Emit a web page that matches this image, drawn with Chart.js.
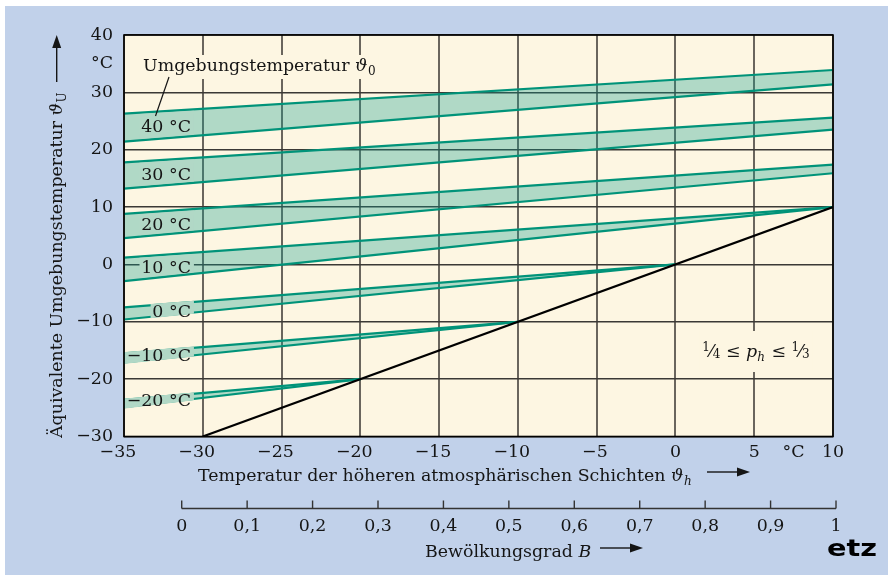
<!DOCTYPE html>
<html>
<head>
<meta charset="utf-8">
<script src="https://cdn.jsdelivr.net/npm/chart.js@4/dist/chart.umd.min.js"></script>
<style>
  html, body { margin: 0; padding: 0; background: #fff; }
  #wrap { width: 888px; height: 575px; position: relative; }
</style>
</head>
<body>
<div id="wrap"><canvas id="c" width="888" height="575"></canvas></div>
<script>
// Temperature of the upper atmospheric layers θh (°C), x axis
const xTicks = [-35, -30, -25, -20, -15, -10, -5, 0, 5, 7.5, 10];
const xTickLabels = ['−35\u2002\u2009', '−30\u2002\u2009', '−25\u2002\u2009', '−20\u2002\u2009', '−15\u2002\u2009',
                     '−10\u2002\u2009', '−5\u2009', '0', '5', '°C', '10'];
// Equivalent ambient temperature θU (°C), y axis
const yTicks = [-30, -20, -10, 0, 10, 20, 30, 35, 40];
const yTickLabels = ['−30', '−20', '−10', '0', '10', '20', '30', '°C', '40'];
// Cloud cover B, secondary scale
const cloudTicks = [0, 0.1, 0.2, 0.3, 0.4, 0.5, 0.6, 0.7, 0.8, 0.9, 1];
const cloudTickLabels = ['0', '0,1', '0,2', '0,3', '0,4', '0,5', '0,6', '0,7', '0,8', '0,9', '1'];

// Ambient temperature θ0 bands: upper edge (p = 1/4) and lower edge (p = 1/3)
const ambientLabels = ['40 °C', '30 °C', '20 °C', '10 °C', '0 °C', '−10 °C', '−20 °C'];
const bandStartX = [-35, -35, -35, -35, -35, -35, -35];
const bandEndX   = [10, 10, 10, 10, 0, -10, -20];
const upperStart = [26.3, 17.8, 8.8, 1.2, -7.5, -15.5, -23.6];
const lowerStart = [21.4, 13.2, 4.6, -2.9, -9.6, -17.1, -24.9];
const upperEnd   = [33.9, 25.6, 17.4, 10, 0, -10, -20];
const lowerEnd   = [31.4, 23.5, 15.9, 10, 0, -10, -20];
// θU = θh reference line
const neutralX = [-30, 10];
const neutralY = [-30, 10];

const SERIF = "'DejaVu Serif', serif";
const FS = 17.4;
const TEAL = '#009379';
const BAND_RGBA = 'rgba(16,154,141,0.32)';
const BAND_SOLID = '#b1d8c6';
const CREAM = '#fdf6e2';
const PANEL = '#c1d1ea';
const INK = '#151515';
const f = (size, style) => (style ? style + ' ' : '') + size + 'px ' + SERIF;

const datasets = [{
  data: neutralX.map((x, i) => ({ x, y: neutralY[i] })),
  borderColor: '#000', borderWidth: 2.2, showLine: true, pointRadius: 0, fill: false
}];
ambientLabels.forEach((lab, i) => {
  datasets.push({
    label: lab + ' oben',
    data: [{ x: bandStartX[i], y: upperStart[i] }, { x: bandEndX[i], y: upperEnd[i] }],
    borderColor: TEAL, borderWidth: 2.2, showLine: true, pointRadius: 0, fill: false
  });
  datasets.push({
    label: lab + ' unten',
    data: [{ x: bandStartX[i], y: lowerStart[i] }, { x: bandEndX[i], y: lowerEnd[i] }],
    borderColor: TEAL, borderWidth: 2.2, showLine: true, pointRadius: 0,
    fill: '-1', backgroundColor: BAND_RGBA
  });
});

function lineAt(x0, y0, x1, y1, x) { return y0 + (y1 - y0) * (x - x0) / (x1 - x0); }

// Writes a sequence of text runs (font changes, sub/superscripts) along the baseline
function drawRuns(ctx, x, y, runs) {
  runs.forEach(r => {
    ctx.font = r.font;
    ctx.fillText(r.text, x, y + (r.dy || 0));
    x += ctx.measureText(r.text).width + (r.gap || 0);
  });
  return x;
}
function runsWidth(ctx, runs) {
  let w = 0;
  runs.forEach(r => { ctx.font = r.font; w += ctx.measureText(r.text).width + (r.gap || 0); });
  return w;
}
function arrow(ctx, x0, y0, x1, y1) {
  const ang = Math.atan2(y1 - y0, x1 - x0), L = 13, H = 4.5;
  const bx = x1 - L * Math.cos(ang), by = y1 - L * Math.sin(ang);
  ctx.beginPath(); ctx.moveTo(x0, y0); ctx.lineTo(bx, by);
  ctx.lineWidth = 1.4; ctx.strokeStyle = INK; ctx.stroke();
  ctx.beginPath();
  ctx.moveTo(x1, y1);
  ctx.lineTo(bx - H * Math.sin(ang), by + H * Math.cos(ang));
  ctx.lineTo(bx + H * Math.sin(ang), by - H * Math.cos(ang));
  ctx.closePath(); ctx.fillStyle = INK; ctx.fill();
}

const decor = {
  id: 'decor',
  beforeDraw(chart) {
    const { ctx, chartArea: a } = chart;
    ctx.save();
    ctx.fillStyle = '#fff'; ctx.fillRect(0, 0, 888, 575);
    ctx.fillStyle = PANEL; ctx.fillRect(5, 6, 883, 569);
    ctx.fillStyle = CREAM; ctx.fillRect(a.left, a.top, a.right - a.left, a.bottom - a.top);
    ctx.restore();
  },
  afterDatasetsDraw(chart) {
    const { ctx, chartArea: a, scales: { x, y } } = chart;
    ctx.save();
    ctx.textBaseline = 'alphabetic';
    // band labels: grid lines (and, in narrow bands, the band edges) are interrupted behind the text
    const labRightX = x.getPixelForValue(-30.75);
    ambientLabels.forEach((lab, i) => {
      const up = v => y.getPixelForValue(lineAt(bandStartX[i], upperStart[i], bandEndX[i], upperEnd[i], v));
      const lo = v => y.getPixelForValue(lineAt(bandStartX[i], lowerStart[i], bandEndX[i], lowerEnd[i], v));
      const xm = -32.5;
      const py = (up(xm) + lo(xm)) / 2 + 1;
      const narrow = (lo(xm) - up(xm)) < 16;
      const e = narrow ? 1.3 : -1.4;
      ctx.font = f(FS);
      const w = ctx.measureText(lab).width;
      const xl = Math.max(a.left + 1, labRightX - w - 2), xr = labRightX + 3;
      const vl = x.getValueForPixel(xl), vr = x.getValueForPixel(xr);
      ctx.save();
      ctx.beginPath();
      ctx.moveTo(xl, up(vl) - e); ctx.lineTo(xr, up(vr) - e);
      ctx.lineTo(xr, lo(vr) + e); ctx.lineTo(xl, lo(vl) + e);
      ctx.closePath(); ctx.clip();
      ctx.fillStyle = BAND_SOLID;
      ctx.fillRect(xl, py - 20, xr - xl, 40);
      ctx.restore();
      ctx.fillStyle = INK;
      ctx.textAlign = 'right';
      ctx.fillText(lab, labRightX, py + 6);
    });
    ctx.textAlign = 'left';
    // "Umgebungstemperatur θ0" note with leader line
    const noteRuns = [
      { text: 'Umgebungstemperatur ', font: f(FS) },
      { text: 'ϑ', font: f(FS, 'italic'), gap: 0.5 },
      { text: '0', font: f(12), dy: 4 }
    ];
    const nx = 143, ny = 71;
    const nw = runsWidth(ctx, noteRuns);
    ctx.fillStyle = CREAM;
    ctx.fillRect(nx - 3, ny - 16, nw + 6, 24);
    ctx.fillStyle = INK;
    drawRuns(ctx, nx, ny, noteRuns);
    ctx.beginPath(); ctx.moveTo(169, 77); ctx.lineTo(155.5, 116);
    ctx.lineWidth = 1.2; ctx.strokeStyle = INK; ctx.stroke();
    // exponent range note
    const pRuns = [
      { text: '1', font: f(12), dy: -6 },
      { text: '⁄', font: f(FS) },
      { text: '4', font: f(12), dy: 1 },
      { text: ' ≤ ', font: f(FS) },
      { text: 'p', font: f(FS, 'italic') },
      { text: 'h', font: f(12, 'italic'), dy: 4, gap: 1 },
      { text: ' ≤ ', font: f(FS) },
      { text: '1', font: f(12), dy: -6 },
      { text: '⁄', font: f(FS) },
      { text: '3', font: f(12), dy: 1 }
    ];
    const pw = runsWidth(ctx, pRuns);
    const px = 756 - pw / 2, pyb = 357;
    ctx.fillStyle = CREAM;
    ctx.fillRect(px - 3, 331, pw + 6, 41);
    ctx.fillStyle = INK;
    drawRuns(ctx, px, pyb, pRuns);
    // plot frame
    ctx.lineWidth = 1.6; ctx.strokeStyle = '#000';
    ctx.strokeRect(a.left, a.top, a.right - a.left, a.bottom - a.top);
    ctx.restore();
  },
  afterDraw(chart) {
    const { ctx, scales: { b } } = chart;
    ctx.save();
    ctx.fillStyle = INK;
    ctx.textBaseline = 'alphabetic';
    ctx.textAlign = 'left';
    // x axis title
    drawRuns(ctx, 198, 480.5, [
      { text: 'Temperatur der höheren atmosphärischen Schichten ', font: f(FS) },
      { text: 'ϑ', font: f(FS, 'italic'), gap: 0.5 },
      { text: 'h', font: f(12, 'italic'), dy: 4 }
    ]);
    arrow(ctx, 707, 472, 750, 472);
    // y axis title, rotated
    ctx.save();
    ctx.translate(61.5, 438);
    ctx.rotate(-Math.PI / 2);
    drawRuns(ctx, 0, 0, [
      { text: 'Äquivalente Umgebungstemperatur ', font: f(FS) },
      { text: 'ϑ', font: f(FS, 'italic'), gap: 0.5 },
      { text: 'U', font: f(12), dy: 4 }
    ]);
    ctx.restore();
    arrow(ctx, 56.7, 82, 56.7, 35);
    // cloud cover scale
    const yb = 508.5;
    const x0 = b.getPixelForValue(cloudTicks[0]);
    const x1 = b.getPixelForValue(cloudTicks[cloudTicks.length - 1]);
    ctx.strokeStyle = '#333'; ctx.lineWidth = 1.4;
    ctx.beginPath(); ctx.moveTo(x0, yb); ctx.lineTo(x1, yb); ctx.stroke();
    ctx.font = f(FS);
    ctx.textAlign = 'center';
    cloudTicks.forEach((v, i) => {
      const px = b.getPixelForValue(v);
      ctx.beginPath(); ctx.moveTo(px, yb); ctx.lineTo(px, yb - 8); ctx.stroke();
      ctx.fillText(cloudTickLabels[i], px, 530.5);
    });
    ctx.textAlign = 'left';
    drawRuns(ctx, 425, 556.5, [
      { text: 'Bewölkungsgrad ', font: f(FS) },
      { text: 'B', font: f(FS, 'italic') }
    ]);
    arrow(ctx, 600, 548, 643, 548);
    // publisher mark
    ctx.save();
    ctx.font = 'bold 23px "DejaVu Sans", sans-serif';
    const ew = ctx.measureText('etz').width;
    ctx.translate(827, 555.5);
    ctx.scale(50 / ew, 1);
    ctx.fillStyle = '#000';
    ctx.fillText('etz', 0, 0);
    ctx.restore();
    ctx.restore();
  }
};

new Chart(document.getElementById('c'), {
  type: 'scatter',
  data: { datasets },
  options: {
    responsive: false,
    animation: false,
    devicePixelRatio: 1,
    layout: { padding: { left: 0, top: 35, right: 55, bottom: 108.5 } },
    plugins: { legend: { display: false }, tooltip: { enabled: false } },
    scales: {
      x: {
        type: 'linear', position: 'bottom', min: -35, max: 10,
        afterBuildTicks: s => { s.ticks = xTicks.map(v => ({ value: v })); },
        afterFit: s => { s.height = 30; },
        ticks: {
          autoSkip: false, maxRotation: 0, minRotation: 0, padding: 6, color: INK,
          font: { family: SERIF, size: FS },
          callback: v => xTickLabels[xTicks.indexOf(v)]
        },
        grid: {
          drawTicks: false, lineWidth: 2,
          color: c => (c.tick && c.tick.value === 7.5) ? 'rgba(0,0,0,0)' : '#6a655d'
        },
        border: { display: false }
      },
      y: {
        type: 'linear', position: 'left', min: -30, max: 40,
        afterBuildTicks: s => { s.ticks = yTicks.map(v => ({ value: v })); },
        afterFit: s => { s.width = 124; },
        ticks: {
          autoSkip: false, padding: 11, color: INK,
          font: { family: SERIF, size: FS },
          callback: v => yTickLabels[yTicks.indexOf(v)]
        },
        grid: {
          drawTicks: false, lineWidth: 1.4,
          color: c => (c.tick && c.tick.value === 35) ? 'rgba(0,0,0,0)' : '#3b3935'
        },
        border: { display: false }
      },
      b: { type: 'linear', axis: 'x', position: 'bottom', display: false, min: -0.0882, max: 0.9954 }
    }
  },
  plugins: [decor]
});
</script>
</body>
</html>
